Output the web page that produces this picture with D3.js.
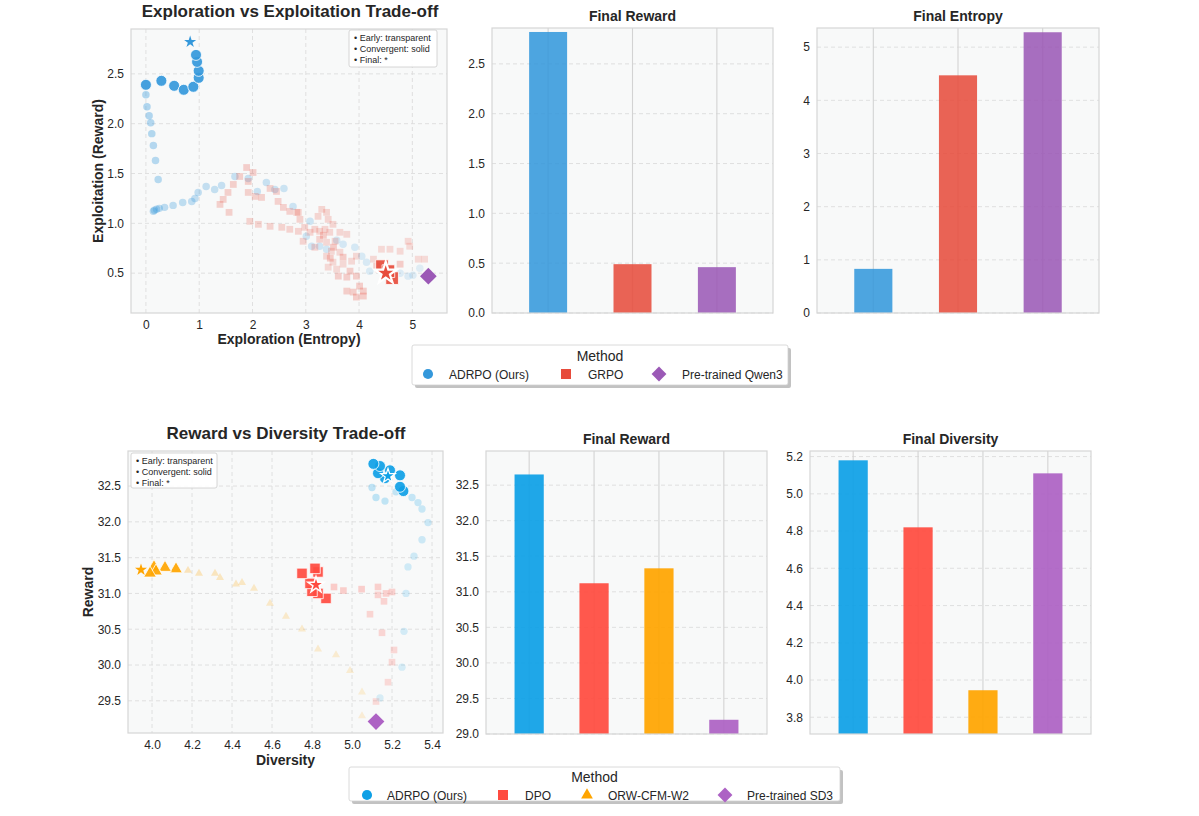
<!DOCTYPE html>
<html>
<head>
<meta charset="utf-8">
<script src="https://cdn.jsdelivr.net/npm/d3@7"></script>
<style>
body { margin: 0; background: #fff; font-family: "Liberation Sans", Arial, sans-serif; }
text { fill: #262626; }
</style>
</head>
<body>
<script>
// ---------- data: top row (Qwen3 text task) ----------
var topMethods = ["ADRPO (Ours)", "GRPO", "Pre-trained Qwen3"];
var topFinalReward = [2.82, 0.49, 0.46];
var topFinalEntropy = [0.83, 4.47, 5.28];

// [entropy, reward] per checkpoint, in training order
var adrpoTopPath = [
  [5.14,0.55],[5.01,0.48],[4.92,0.47],[4.77,0.50],[4.45,0.52],[4.20,0.52],[4.14,0.61],[4.05,0.67],
  [3.92,0.76],[3.70,0.79],[3.58,0.83],[3.39,0.74],[3.26,0.77],[3.11,0.77],[3.01,0.87],[3.08,1.02],
  [2.76,1.17],[2.59,1.35],[2.42,1.34],[2.26,1.41],[2.09,1.32],[1.92,1.45],[1.67,1.47],[1.42,1.38],
  [1.29,1.34],[1.13,1.37],[0.98,1.31],[0.92,1.25],[0.86,1.22],[0.69,1.21],[0.51,1.18],[0.35,1.16],
  [0.25,1.15],[0.20,1.14],[0.16,1.13],[0.14,1.12],[0.23,1.44],[0.18,1.63],[0.14,1.78],[0.11,1.90],
  [0.09,2.01],[0.06,2.08],[0.02,2.17],[0.00,2.29],
  [0.00,2.39],[0.29,2.43],[0.53,2.38],[0.71,2.34],[0.89,2.37],[0.99,2.46],[0.99,2.53],[0.96,2.62],[0.94,2.69]
];
var adrpoTopFinal = [0.83, 2.82];

var grpoTopPath = [
  [5.23,0.64],[5.11,0.64],[4.95,0.77],[4.92,0.82],[4.77,0.72],[4.58,0.74],[4.42,0.74],[4.27,0.64],
  [3.95,0.67],[3.86,0.62],[3.70,0.59],[3.58,0.54],[3.42,0.56],[3.51,0.61],[3.39,0.67],[3.64,0.71],
  [3.48,0.72],[3.39,0.81],[3.55,0.82],[3.77,0.89],[3.64,0.91],[3.45,0.91],[3.36,0.94],[3.51,0.99],
  [3.42,1.04],[3.23,1.07],[3.39,1.11],[3.30,1.14],[3.26,0.92],[3.17,0.94],[3.08,0.91],[2.98,0.96],
  [3.17,0.76],[3.26,0.84],[2.95,0.82],[2.86,0.92],[2.70,0.94],[2.55,0.96],[2.33,0.97],[2.11,0.99],
  [1.95,1.02],[2.89,1.04],[2.86,1.11],[2.83,1.11],[2.70,1.12],[2.58,1.16],[2.48,1.22],[2.45,1.32],
  [2.33,1.35],[2.17,1.26],[2.05,1.27],[1.92,1.31],[1.56,1.11],[1.39,1.19],[1.45,1.24],[1.54,1.31],
  [1.64,1.39],[1.76,1.47],[1.92,1.42],[2.01,1.51],[1.89,1.56],[3.61,0.47],[3.77,0.46],[3.95,0.47],
  [3.83,0.52],[3.77,0.32],[3.89,0.31],[3.95,0.26],[4.08,0.27],[4.08,0.32],[4.01,0.37],[4.77,0.59],
  [4.33,0.57],[3.46,0.65],[3.52,0.76],[3.33,0.88],[3.70,0.66],
  [4.43,0.57],[4.62,0.45],[4.55,0.52]
];
var grpoTopFinal = [4.50, 0.50];
var qwenPoint = [5.30, 0.47];

var topScatterXTicks = [0, 1, 2, 3, 4, 5];
var topScatterYTicks = [0.5, 1.0, 1.5, 2.0, 2.5];
var topRewardTicks = [0.0, 0.5, 1.0, 1.5, 2.0, 2.5];
var topEntropyTicks = [0, 1, 2, 3, 4, 5];

// ---------- data: bottom row (SD3 image task) ----------
var botMethods = ["ADRPO (Ours)", "DPO", "ORW-CFM-W2", "Pre-trained SD3"];
var botFinalReward = [32.65, 31.12, 31.33, 29.20];
var botFinalDiversity = [5.18, 4.82, 3.945, 5.11];

// [diversity, reward]
var adrpoBotPath = [
  [5.14,29.54],[5.25,29.97],[5.26,30.47],[5.27,31.00],[5.28,31.37],[5.31,31.52],[5.35,31.75],
  [5.38,31.99],[5.35,32.18],[5.33,32.27],[5.30,32.34],[5.22,32.42],[5.165,32.29],[5.12,32.34],[5.10,32.48],
  [5.257,32.43],[5.24,32.49],[5.24,32.65],[5.19,32.72],[5.165,32.61],[5.13,32.68],[5.14,32.78],[5.107,32.81]
];
var adrpoBotFinal = [5.18, 32.64];

var dpoBotPath = [
  [5.12,29.49],[5.18,29.76],[5.20,30.04],[5.21,30.21],[5.15,30.45],[5.09,30.71],[5.16,30.89],
  [5.13,30.98],[5.20,31.02],[5.17,31.00],[5.13,31.09],[5.048,31.06],[4.957,31.04],[4.91,31.09],
  [4.87,30.93],[4.83,31.00],[4.80,31.03],[4.79,31.14],[4.75,31.28],[4.83,31.30],[4.815,31.35]
];
var dpoBotFinal = [4.82, 31.12];

var orwBotPath = [
  [5.05,29.29],[5.05,29.62],[4.99,29.92],[4.92,30.14],[4.83,30.22],[4.75,30.50],[4.67,30.68],
  [4.59,30.86],[4.51,31.07],[4.45,31.15],[4.42,31.13],[4.34,31.22],[4.315,31.28],[4.235,31.28],[4.18,31.32],
  [4.12,31.34],[4.065,31.36],[4.01,31.37],[4.02,31.31],[3.99,31.28]
];
var orwBotFinal = [3.945, 31.33];
var sd3Point = [5.12, 29.21];

var botScatterXTicks = [4.0, 4.2, 4.4, 4.6, 4.8, 5.0, 5.2, 5.4];
var botScatterYTicks = [29.5, 30.0, 30.5, 31.0, 31.5, 32.0, 32.5];
var botRewardTicks = [29.0, 29.5, 30.0, 30.5, 31.0, 31.5, 32.0, 32.5];
var botDiversityTicks = [3.8, 4.0, 4.2, 4.4, 4.6, 4.8, 5.0, 5.2];

var noteLines = ["\u2022 Early: transparent", "\u2022 Convergent: solid", "\u2022 Final: *"];

// ---------- colours ----------
var topColors = ["#3498db", "#e74c3c", "#9b59b6"];
var botColors = ["#0ea0e6", "#ff4b40", "#ffa500", "#ad62c4"];

var svg = d3.select("body").append("svg")
  .attr("width", 1199)
  .attr("height", 816);

svg.append("rect").attr("width", 1199).attr("height", 816).attr("fill", "#ffffff");

function frame(g, box) {
  g.append("rect")
    .attr("x", box.left).attr("y", box.top)
    .attr("width", box.right - box.left).attr("height", box.bottom - box.top)
    .attr("fill", "none").attr("stroke", "#d6d6d6").attr("stroke-width", 1.2);
}

function background(g, box) {
  g.append("rect")
    .attr("x", box.left).attr("y", box.top)
    .attr("width", box.right - box.left).attr("height", box.bottom - box.top)
    .attr("fill", "#f8f9f9");
}

function yAxis(g, box, y, ticks, fmt) {
  var ax = g.append("g").attr("transform", "translate(" + box.left + ",0)")
    .call(d3.axisLeft(y).tickValues(ticks).tickSize(0).tickPadding(7).tickFormat(fmt));
  ax.select(".domain").remove();
  ax.selectAll("text").attr("font-size", 12).attr("fill", "#262626")
    .attr("font-family", "Liberation Sans, Arial, sans-serif");
}

function xAxis(g, box, x, ticks, fmt) {
  var ax = g.append("g").attr("transform", "translate(0," + box.bottom + ")")
    .call(d3.axisBottom(x).tickValues(ticks).tickSize(0).tickPadding(7).tickFormat(fmt));
  ax.select(".domain").remove();
  ax.selectAll("text").attr("font-size", 12).attr("fill", "#262626")
    .attr("font-family", "Liberation Sans, Arial, sans-serif");
}

function hGrid(g, box, y, ticks) {
  g.append("g").selectAll("line").data(ticks).enter().append("line")
    .attr("x1", box.left).attr("x2", box.right)
    .attr("y1", function(d) { return y(d); }).attr("y2", function(d) { return y(d); })
    .attr("stroke", "#dcdcdc").attr("stroke-width", 0.9).attr("stroke-dasharray", "4,3");
}

function vGrid(g, box, x, ticks, dashed) {
  g.append("g").selectAll("line").data(ticks).enter().append("line")
    .attr("y1", box.top).attr("y2", box.bottom)
    .attr("x1", function(d) { return x(d); }).attr("x2", function(d) { return x(d); })
    .attr("stroke", dashed ? "#dcdcdc" : "#d3d3d3").attr("stroke-width", dashed ? 0.9 : 1.1)
    .attr("stroke-dasharray", dashed ? "4,3" : null);
}

function title(g, cx, cy, txt, size) {
  g.append("text").attr("x", cx).attr("y", cy).attr("text-anchor", "middle")
    .attr("font-size", size).attr("font-weight", "bold").text(txt);
}

// trajectory: early points transparent & small, last `solid` points opaque & big
function trajectory(g, x, y, pts, opt) {
  var n = pts.length, nEarly = n - opt.solid;
  g.append("g").selectAll("path").data(pts).enter().append("path")
    .attr("transform", function(d) { return "translate(" + x(d[0]) + "," + y(d[1]) + ")"; })
    .attr("d", function(d, i) {
      var s = i < nEarly ? opt.earlySize : opt.solidSize;
      return d3.symbol().type(opt.shape).size(s)();
    })
    .attr("fill", opt.color)
    .attr("fill-opacity", function(d, i) {
      return i < nEarly ? opt.a0 + (opt.a1 - opt.a0) * (i / nEarly) : 0.92;
    })
    .attr("stroke", function(d, i) { return i < nEarly ? "none" : "#ffffff"; })
    .attr("stroke-width", 0.8);
}

function marker(g, cx, cy, shape, size, color, stroke, sw) {
  var p = g.append("path")
    .attr("transform", "translate(" + cx + "," + cy + ")" + (shape === "diamond" ? " rotate(45)" : ""))
    .attr("d", d3.symbol().type(shape === "diamond" ? d3.symbolSquare : shape).size(size)())
    .attr("fill", color);
  if (stroke) p.attr("stroke", stroke).attr("stroke-width", sw);
  return p;
}

function noteBox(g, bx, by, w, h) {
  g.append("rect").attr("x", bx).attr("y", by).attr("width", w).attr("height", h)
    .attr("rx", 2).attr("fill", "#ffffff").attr("fill-opacity", 0.9)
    .attr("stroke", "#cccccc").attr("stroke-width", 0.8);
  g.append("g").selectAll("text").data(noteLines).enter().append("text")
    .attr("x", bx + 5).attr("y", function(d, i) { return by + 11 + i * 11; })
    .attr("font-size", 9).text(function(d) { return d; });
}

function barPanel(box, methods, values, colors, ticks, yDomain, fmt, ttl, alpha) {
  var g = svg.append("g");
  var x = d3.scaleBand().domain(methods).range([box.left, box.right])
    .paddingInner(0.55).paddingOuter(0.44);
  var y = d3.scaleLinear().domain(yDomain).range([box.bottom, box.top]);
  background(g, box);
  hGrid(g, box, y, ticks);
  vGrid(g, box, function(d) { return x(d) + x.bandwidth() / 2; }, methods, false);
  g.append("g").selectAll("rect").data(values).enter().append("rect")
    .attr("x", function(d, i) { return x(methods[i]); })
    .attr("width", x.bandwidth())
    .attr("y", function(d) { return y(d); })
    .attr("height", function(d) { return box.bottom - y(d); })
    .attr("fill", function(d, i) { return colors[i]; })
    .attr("fill-opacity", alpha);
  frame(g, box);
  yAxis(g, box, y, ticks, fmt);
  title(g, (box.left + box.right) / 2, box.top - 7, ttl, 14);
}

function legend(cfg) {
  var g = svg.append("g");
  g.append("rect").attr("x", cfg.left + 3).attr("y", cfg.top + 3)
    .attr("width", cfg.right - cfg.left).attr("height", cfg.bottom - cfg.top)
    .attr("rx", 2).attr("fill", "#9a9a9a").attr("fill-opacity", 0.6);
  g.append("rect").attr("x", cfg.left).attr("y", cfg.top)
    .attr("width", cfg.right - cfg.left).attr("height", cfg.bottom - cfg.top)
    .attr("rx", 2).attr("fill", "#ffffff").attr("stroke", "#d0d0d0").attr("stroke-width", 0.8);
  g.append("text").attr("x", (cfg.left + cfg.right) / 2).attr("y", cfg.titleY)
    .attr("text-anchor", "middle").attr("font-size", 14).text("Method");
  cfg.items.forEach(function(it, i) {
    marker(g, it.mx, cfg.rowY, it.shape, it.size, cfg.colors[i]);
    g.append("text").attr("x", it.tx).attr("y", cfg.rowY + 4.5)
      .attr("font-size", 12).text(cfg.names[i]);
  });
}

// ================= TOP ROW =================
(function() {
  var box = {left: 131, right: 447, top: 29, bottom: 313};
  var g = svg.append("g");
  var x = d3.scaleLinear().domain([-0.28, 5.65]).range([box.left, box.right]);
  var y = d3.scaleLinear().domain([0.1, 2.95]).range([box.bottom, box.top]);
  background(g, box);
  hGrid(g, box, y, topScatterYTicks);
  vGrid(g, box, x, topScatterXTicks, true);

  trajectory(g, x, y, adrpoTopPath, {shape: d3.symbolCircle, color: topColors[0], solid: 9,
    earlySize: 44, solidSize: 95, a0: 0.13, a1: 0.38});
  trajectory(g, x, y, grpoTopPath, {shape: d3.symbolSquare, color: topColors[1], solid: 3,
    earlySize: 46, solidSize: 160, a0: 0.18, a1: 0.26});

  marker(g, x(qwenPoint[0]), y(qwenPoint[1]), "diamond", 140, topColors[2]);
  marker(g, x(adrpoTopFinal[0]), y(adrpoTopFinal[1]), d3.symbolStar, 45, topColors[0]);
  marker(g, x(grpoTopFinal[0]), y(grpoTopFinal[1]), d3.symbolStar, 150, topColors[1], "#ffffff", 2.2);

  frame(g, box);
  xAxis(g, box, x, topScatterXTicks, d3.format("d"));
  yAxis(g, box, y, topScatterYTicks, d3.format(".1f"));
  noteBox(g, 349, 30, 88, 37);

  title(g, 290, 17, "Exploration vs Exploitation Trade-off", 17);
  g.append("text").attr("x", (box.left + box.right) / 2).attr("y", 344)
    .attr("text-anchor", "middle").attr("font-size", 14).attr("font-weight", "bold")
    .text("Exploration (Entropy)");
  g.append("text").attr("transform", "translate(103," + (box.top + box.bottom) / 2 + ") rotate(-90)")
    .attr("text-anchor", "middle").attr("font-size", 14).attr("font-weight", "bold")
    .text("Exploitation (Reward)");
})();

barPanel({left: 492, right: 773, top: 28, bottom: 313}, topMethods, topFinalReward, topColors,
  topRewardTicks, [0, 2.86], d3.format(".1f"), "Final Reward", 0.87);
barPanel({left: 817, right: 1099, top: 28, bottom: 313}, topMethods, topFinalEntropy, topColors,
  topEntropyTicks, [0, 5.36], d3.format("d"), "Final Entropy", 0.87);

legend({left: 412, right: 788, top: 345, bottom: 385, titleY: 361, rowY: 374,
  names: topMethods, colors: topColors,
  items: [
    {shape: d3.symbolCircle, size: 80, mx: 428, tx: 449},
    {shape: d3.symbolSquare, size: 100, mx: 566, tx: 588},
    {shape: "diamond", size: 110, mx: 659, tx: 682}
  ]});

// ================= BOTTOM ROW =================
(function() {
  var box = {left: 128, right: 443, top: 451, bottom: 733};
  var g = svg.append("g");
  var x = d3.scaleLinear().domain([3.88, 5.455]).range([box.left, box.right]);
  var y = d3.scaleLinear().domain([29.05, 32.99]).range([box.bottom, box.top]);
  background(g, box);
  hGrid(g, box, y, botScatterYTicks);
  vGrid(g, box, x, botScatterXTicks, true);

  trajectory(g, x, y, orwBotPath, {shape: d3.symbolTriangle, color: botColors[2], solid: 5,
    earlySize: 28, solidSize: 70, a0: 0.14, a1: 0.26});
  trajectory(g, x, y, dpoBotPath, {shape: d3.symbolSquare, color: botColors[1], solid: 7,
    earlySize: 44, solidSize: 110, a0: 0.18, a1: 0.26});
  trajectory(g, x, y, adrpoBotPath, {shape: d3.symbolCircle, color: botColors[0], solid: 8,
    earlySize: 42, solidSize: 95, a0: 0.14, a1: 0.26});

  marker(g, x(sd3Point[0]), y(sd3Point[1]), "diamond", 140, botColors[3]);
  marker(g, x(orwBotFinal[0]), y(orwBotFinal[1]), d3.symbolStar, 45, botColors[2]);
  marker(g, x(dpoBotFinal[0]), y(dpoBotFinal[1]), d3.symbolStar, 80, botColors[1], "#ffffff", 1.5);
  marker(g, x(adrpoBotFinal[0]), y(adrpoBotFinal[1]), d3.symbolStar, 65, botColors[0], "#ffffff", 1.2);

  frame(g, box);
  xAxis(g, box, x, botScatterXTicks, d3.format(".1f"));
  yAxis(g, box, y, botScatterYTicks, d3.format(".1f"));
  noteBox(g, 131, 453, 86, 35);

  title(g, 286, 439, "Reward vs Diversity Trade-off", 17);
  g.append("text").attr("x", (box.left + box.right) / 2).attr("y", 765)
    .attr("text-anchor", "middle").attr("font-size", 14).attr("font-weight", "bold")
    .text("Diversity");
  g.append("text").attr("transform", "translate(93," + (box.top + box.bottom) / 2 + ") rotate(-90)")
    .attr("text-anchor", "middle").attr("font-size", 14).attr("font-weight", "bold")
    .text("Reward");
})();

barPanel({left: 486, right: 767, top: 451, bottom: 734}, botMethods, botFinalReward, botColors,
  botRewardTicks, [29.0, 32.98], d3.format(".1f"), "Final Reward", 0.93);
barPanel({left: 810, right: 1091, top: 451, bottom: 734}, botMethods, botFinalDiversity, botColors,
  botDiversityTicks, [3.71, 5.23], d3.format(".1f"), "Final Diversity", 0.93);

legend({left: 349, right: 840, top: 767, bottom: 801, titleY: 782, rowY: 795,
  names: botMethods, colors: botColors,
  items: [
    {shape: d3.symbolCircle, size: 80, mx: 367, tx: 387},
    {shape: d3.symbolSquare, size: 100, mx: 503, tx: 525},
    {shape: d3.symbolTriangle, size: 60, mx: 587, tx: 608},
    {shape: "diamond", size: 110, mx: 725, tx: 747}
  ]});
</script>
</body>
</html>
